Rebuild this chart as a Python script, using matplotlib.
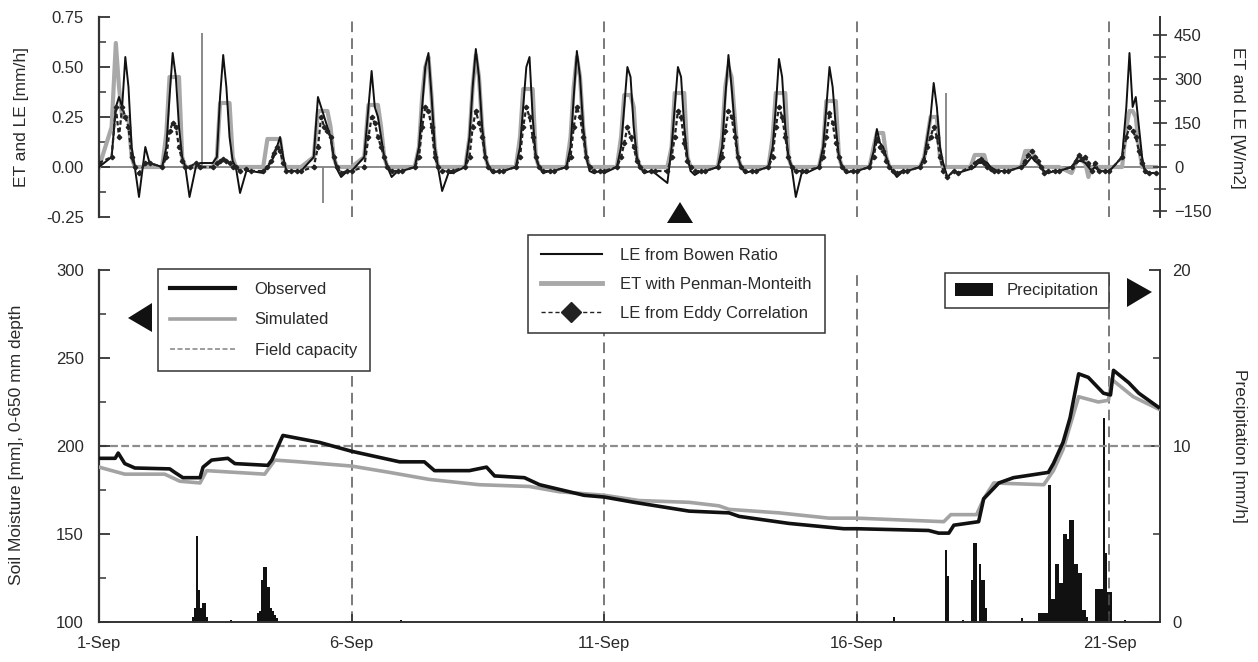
import numpy as np
from matplotlib import pyplot as plt
from matplotlib.lines import Line2D
from matplotlib.patches import Patch, Polygon

plt.rcParams['font.family'] = ['Liberation Sans', 'DejaVu Sans']
TXT = '#2a2a2a'
W, H = 1258, 662

#%% ET / LE fluxes, mm/h, one row per day (1-Sep .. 21-Sep), values at these hours
hours = [0, 6, 8, 9.5, 11, 12.5, 14, 15.5, 17, 19, 22]

le_bowen = [
    [0.00, 0.05, 0.30, 0.35, 0.30, 0.55, 0.40, 0.10, 0.00, -0.15, 0.10],
    [0.02, 0.00, 0.10, 0.35, 0.57, 0.45, 0.20, 0.05, 0.00, -0.15, 0.00],
    [0.02, 0.02, 0.05, 0.35, 0.56, 0.40, 0.15, 0.03, 0.00, -0.13, -0.02],
    [-0.02, -0.03, 0.00, 0.02, 0.05, 0.10, 0.15, 0.05, -0.02, -0.02, -0.02],
    [-0.02, 0.05, 0.35, 0.30, 0.25, 0.20, 0.15, 0.05, -0.01, -0.05, -0.02],
    [-0.02, 0.05, 0.30, 0.48, 0.30, 0.25, 0.15, 0.05, 0.00, -0.05, -0.02],
    [-0.02, 0.00, 0.10, 0.30, 0.50, 0.57, 0.35, 0.10, 0.00, -0.12, -0.03],
    [-0.03, 0.00, 0.15, 0.40, 0.59, 0.45, 0.20, 0.05, 0.00, -0.03, -0.02],
    [-0.02, 0.00, 0.10, 0.30, 0.50, 0.55, 0.25, 0.05, 0.00, -0.03, -0.02],
    [-0.02, 0.00, 0.10, 0.35, 0.58, 0.45, 0.20, 0.05, -0.02, -0.03, -0.02],
    [-0.03, 0.00, 0.10, 0.30, 0.50, 0.45, 0.20, 0.05, 0.00, -0.03, -0.02],
    [-0.03, -0.08, 0.10, 0.30, 0.50, 0.45, 0.20, 0.05, -0.02, -0.04, -0.02],
    [-0.02, 0.00, 0.10, 0.35, 0.56, 0.40, 0.20, 0.05, 0.00, -0.03, -0.02],
    [-0.02, 0.00, 0.10, 0.30, 0.54, 0.45, 0.20, 0.05, 0.00, -0.15, -0.02],
    [-0.03, 0.00, 0.10, 0.30, 0.50, 0.40, 0.20, 0.05, 0.00, -0.03, -0.02],
    [-0.02, 0.00, 0.08, 0.19, 0.12, 0.10, 0.05, 0.00, -0.02, -0.05, -0.02],
    [-0.02, 0.00, 0.05, 0.15, 0.25, 0.42, 0.30, 0.10, 0.02, -0.05, -0.02],
    [-0.03, -0.01, 0.00, 0.02, 0.02, 0.03, 0.02, 0.00, -0.01, -0.02, -0.02],
    [-0.02, 0.00, 0.01, 0.03, 0.05, 0.03, 0.02, 0.00, -0.02, -0.03, -0.02],
    [-0.02, 0.00, 0.02, 0.03, 0.03, 0.02, 0.00, -0.02, 0.00, -0.02, -0.02],
    [-0.02, 0.05, 0.30, 0.57, 0.30, 0.35, 0.20, 0.05, -0.03, -0.03, -0.03],
]

et_pm = [
    [0.00, 0.20, 0.62, 0.40, 0.25, 0.25, 0.25, 0.05, 0.00, 0.00, 0.00],
    [0.00, 0.00, 0.17, 0.45, 0.45, 0.45, 0.45, 0.05, 0.00, 0.00, 0.00],
    [0.00, 0.00, 0.05, 0.32, 0.32, 0.32, 0.32, 0.05, 0.00, 0.00, 0.00],
    [0.00, 0.00, 0.14, 0.14, 0.14, 0.14, 0.14, 0.02, 0.00, 0.00, 0.00],
    [0.00, 0.05, 0.28, 0.28, 0.28, 0.28, 0.20, 0.05, 0.00, 0.00, 0.00],
    [0.00, 0.05, 0.31, 0.31, 0.31, 0.31, 0.20, 0.05, 0.00, 0.00, 0.00],
    [0.00, 0.00, 0.10, 0.35, 0.50, 0.55, 0.35, 0.10, 0.00, 0.00, 0.00],
    [0.00, 0.00, 0.15, 0.40, 0.56, 0.45, 0.20, 0.05, 0.00, 0.00, 0.00],
    [0.00, 0.00, 0.15, 0.39, 0.39, 0.39, 0.39, 0.05, 0.00, 0.00, 0.00],
    [0.00, 0.00, 0.15, 0.40, 0.55, 0.45, 0.20, 0.05, 0.00, 0.00, 0.00],
    [0.00, 0.00, 0.15, 0.36, 0.36, 0.36, 0.30, 0.05, 0.00, 0.00, 0.00],
    [0.00, 0.00, 0.10, 0.37, 0.37, 0.37, 0.37, 0.05, 0.00, 0.00, 0.00],
    [0.00, 0.00, 0.15, 0.40, 0.50, 0.45, 0.25, 0.05, 0.00, 0.00, 0.00],
    [0.00, 0.00, 0.15, 0.37, 0.37, 0.37, 0.37, 0.05, 0.00, 0.00, 0.00],
    [0.00, 0.00, 0.10, 0.33, 0.33, 0.33, 0.33, 0.05, 0.00, 0.00, 0.00],
    [0.00, 0.00, 0.10, 0.17, 0.17, 0.17, 0.05, 0.00, 0.00, 0.00, 0.00],
    [0.00, 0.00, 0.05, 0.15, 0.25, 0.25, 0.25, 0.05, 0.00, 0.00, 0.00],
    [0.00, 0.00, 0.06, 0.06, 0.06, 0.06, 0.00, 0.00, 0.00, 0.00, 0.00],
    [0.00, 0.00, 0.08, 0.08, 0.08, 0.05, 0.02, 0.00, 0.00, 0.00, 0.00],
    [0.00, -0.03, 0.02, 0.05, 0.03, 0.02, -0.05, 0.00, 0.00, 0.00, 0.00],
    [0.00, 0.00, 0.20, 0.28, 0.28, 0.25, 0.10, 0.00, 0.00, 0.00, 0.00],
]

le_eddy = [
    [0.02, 0.05, 0.30, 0.15, 0.30, 0.25, 0.20, 0.05, 0.00, -0.03, 0.02],
    [0.02, 0.00, 0.05, 0.18, 0.22, 0.20, 0.10, 0.03, 0.00, 0.00, 0.02],
    [0.00, 0.00, 0.02, 0.03, 0.04, 0.03, 0.02, 0.00, 0.00, -0.02, -0.01],
    [-0.02, -0.02, 0.00, 0.03, 0.07, 0.10, 0.08, 0.02, -0.02, -0.02, -0.02],
    [-0.02, 0.00, 0.10, 0.25, 0.20, 0.18, 0.15, 0.05, 0.00, -0.03, -0.02],
    [-0.02, 0.00, 0.15, 0.25, 0.22, 0.15, 0.10, 0.05, 0.00, -0.02, -0.02],
    [-0.02, 0.00, 0.05, 0.20, 0.30, 0.28, 0.20, 0.05, 0.00, -0.02, -0.02],
    [-0.02, 0.00, 0.05, 0.20, 0.28, 0.22, 0.15, 0.05, 0.00, -0.02, -0.02],
    [-0.02, 0.00, 0.05, 0.20, 0.30, 0.25, 0.15, 0.05, 0.00, -0.02, -0.02],
    [-0.02, 0.00, 0.05, 0.20, 0.30, 0.25, 0.15, 0.05, 0.00, -0.02, -0.02],
    [-0.02, 0.00, 0.05, 0.12, 0.20, 0.15, 0.10, 0.03, 0.00, -0.02, -0.02],
    [-0.02, -0.02, 0.05, 0.15, 0.28, 0.25, 0.12, 0.03, 0.00, -0.02, -0.02],
    [-0.02, 0.00, 0.05, 0.18, 0.28, 0.25, 0.15, 0.05, 0.00, -0.02, -0.02],
    [-0.02, 0.00, 0.05, 0.20, 0.30, 0.25, 0.15, 0.05, 0.00, -0.02, -0.02],
    [-0.02, 0.00, 0.05, 0.15, 0.27, 0.22, 0.12, 0.05, 0.00, -0.02, -0.02],
    [-0.02, 0.00, 0.05, 0.14, 0.10, 0.08, 0.03, 0.00, -0.02, -0.03, -0.02],
    [-0.02, 0.00, 0.03, 0.10, 0.15, 0.20, 0.15, 0.05, -0.02, -0.05, -0.02],
    [-0.03, 0.00, 0.02, 0.03, 0.04, 0.02, 0.00, -0.01, -0.02, -0.02, -0.02],
    [-0.02, 0.00, 0.03, 0.06, 0.08, 0.05, 0.03, 0.00, -0.03, -0.02, -0.02],
    [-0.02, 0.00, 0.03, 0.06, 0.04, 0.05, 0.02, -0.02, 0.02, -0.02, -0.02],
    [-0.02, 0.05, 0.15, 0.20, 0.18, 0.15, 0.08, 0.02, -0.02, -0.03, -0.03],
]

# isolated eddy-correlation spikes (day since 1-Sep, mm/h)
spike_day = [2.04, 4.43, 16.76]
spike_val = [0.67, -0.18, 0.37]

#%% soil moisture (mm), x in days since 1-Sep 00:00
obs_day = [0.00, 0.32, 0.38, 0.51, 0.71, 1.40, 1.50, 1.66, 2.00, 2.06, 2.23, 2.55, 2.69,
           3.34, 3.42, 3.64, 4.37, 5.00, 5.95, 6.44, 6.64, 7.33, 7.67, 7.83, 8.42, 8.72,
           9.60, 10.00, 10.59, 11.68, 12.47, 12.67, 13.66, 14.74, 15.00, 16.42, 16.62,
           16.82, 16.92, 17.41, 17.51, 17.81, 18.10, 18.79, 18.89, 19.08, 19.22, 19.39,
           19.58, 19.88, 20.02, 20.08, 20.38, 20.58, 20.97]
obs_mm = [193, 193, 196, 190, 187.5, 187, 185, 182, 182, 188, 192, 193, 190,
          189, 192, 206, 202, 197, 191, 191, 186, 186, 188, 183, 182, 178,
          172, 171, 168, 163, 162, 160, 156, 153, 153, 152, 150.5,
          150.5, 155, 157, 170, 179, 182, 185, 190, 202, 216, 241,
          239, 230, 229, 243, 236, 230, 222]

sim_day = [0.00, 0.51, 1.30, 1.60, 2.00, 2.13, 3.28, 3.48, 3.97, 5.00, 5.75, 6.54, 7.53,
           8.52, 9.11, 10.00, 10.69, 11.68, 12.27, 12.47, 13.46, 14.45, 15.00, 16.72,
           16.86, 17.37, 17.51, 17.71, 18.70, 18.89, 19.08, 19.39, 19.78, 19.98, 20.04,
           20.47, 20.97]
sim_mm = [188, 184, 184, 180, 179, 186, 184, 192, 191, 188.6, 185, 181, 178,
          177, 174, 172, 169, 168, 166, 164, 162, 159, 159, 157,
          161, 161, 170, 179, 178, 186, 198, 228, 225, 226, 238,
          228, 221]

field_capacity = 200

#%% precipitation, mm/h per hour since 1-Sep 00:00
precip_hour = [44, 45, 46, 47, 48, 49, 50, 51, 62,
               75, 76, 77, 78, 79, 80, 81, 82, 83, 84, 143,
               377, 402, 403, 410,
               414, 415, 416, 418, 419, 420, 421, 438,
               446, 447, 448, 449, 450, 451, 452, 453, 454, 455, 456, 457, 458, 459,
               460, 461, 462, 463, 464, 465, 466, 467, 468, 469,
               473, 474, 475, 476, 477, 478, 479, 480, 487]
precip_mmh = [0.3, 0.8, 4.9, 1.8, 0.8, 1.1, 1.1, 0.3, 0.1,
              0.5, 0.6, 2.4, 3.1, 3.1, 2.0, 0.8, 0.6, 0.4, 0.2, 0.1,
              0.3, 4.1, 2.6, 0.1,
              2.4, 4.5, 4.5, 3.3, 2.4, 2.4, 0.8, 0.2,
              0.5, 0.5, 0.5, 0.5, 0.5, 7.8, 1.3, 1.3, 3.3, 3.3, 2.2, 2.2, 5.0, 5.0,
              4.7, 5.8, 5.8, 3.3, 3.3, 2.8, 2.8, 0.7, 0.7, 0.3,
              1.9, 1.9, 1.9, 1.9, 11.6, 3.9, 1.7, 1.7, 0.1]

tick_days = [0, 5, 10, 15, 20]
tick_labels = ['1-Sep', '6-Sep', '11-Sep', '16-Sep', '21-Sep']

MMH_TO_WM2 = 680.0   # latent heat conversion used for the right axis

#%% build time axis for the flux rows
t_flux = np.array([d + h / 24.0 for d in range(len(le_bowen)) for h in hours])
bowen = np.array(le_bowen).ravel()
pm = np.array(et_pm).ravel()
eddy = np.array(le_eddy).ravel()


def fx(px):
    return px / W


def fy(py):
    return 1 - py / H


fig = plt.figure(figsize=(W / 100, H / 100), dpi=100)
fig.patch.set_facecolor('white')

ax1 = fig.add_axes([fx(99), fy(217), fx(1160) - fx(99), fy(17) - fy(217)])
ax2 = fig.add_axes([fx(99), fy(622), fx(1160) - fx(99), fy(270) - fy(622)])

dash_kw = dict(color='#555555', lw=1.1, dashes=(7, 4), zorder=1)

#%% top panel
ax1.axhline(0, color='#777777', lw=1.2, zorder=1)
for d in tick_days[1:]:
    ax1.axvline(d, **dash_kw)
ax1.plot(t_flux, pm, color='#a8a8a8', lw=3, zorder=2)
ax1.vlines(spike_day, 0, spike_val, color='#808080', lw=1.3, zorder=2)
ax1.plot(t_flux, bowen, color='#111111', lw=1.4, zorder=3)
ax1.plot(t_flux, eddy, color='#222222', lw=1.6, dashes=(2, 1.2), marker='D',
         ms=2.3, zorder=4)

ax1.set_xlim(0, 21)
ax1.set_ylim(-0.25, 0.75)
ax1.set_xticks([])
ax1.set_yticks([-0.25, 0, 0.25, 0.5, 0.75])
ax1.set_yticks([-0.125, 0.125, 0.375, 0.625], minor=True)
ax1.set_yticklabels(['%.2f' % v for v in [-0.25, 0, 0.25, 0.5, 0.75]])
ax1.tick_params(axis='y', which='major', direction='in', length=8, width=1.3,
                pad=11, labelsize=12, labelcolor=TXT, color='#333333')
ax1.tick_params(axis='y', which='minor', direction='in', length=5, width=1.1,
                color='#333333')
for s in ['top', 'bottom', 'right']:
    ax1.spines[s].set_visible(False)
ax1.spines['left'].set_linewidth(1.6)
ax1.spines['left'].set_color('#333333')

ax1r = ax1.twinx()
ax1r.set_ylim(-0.25 * MMH_TO_WM2, 0.75 * MMH_TO_WM2)
ax1r.set_yticks([-150, 0, 150, 300, 450])
ax1r.set_yticks([-75, 75, 225, 375], minor=True)
ax1r.tick_params(axis='y', which='major', direction='inout', length=10, width=1.2,
                 pad=5, labelsize=12, labelcolor=TXT, color='#333333')
ax1r.tick_params(axis='y', which='minor', direction='inout', length=8, width=1.1,
                 color='#333333')
for s in ['top', 'bottom', 'left']:
    ax1r.spines[s].set_visible(False)
ax1r.spines['right'].set_linewidth(1.4)
ax1r.spines['right'].set_color('#333333')

#%% bottom panel
ax2r = ax2.twinx()
ax2r.bar(np.array(precip_hour) / 24.0, precip_mmh, width=1 / 24.0, align='edge',
         color='#111111', edgecolor='none', zorder=2)
ax2r.set_ylim(0, 20)
ax2r.set_yticks([0, 10, 20])
ax2r.set_yticks([5, 15], minor=True)
ax2r.tick_params(axis='y', which='major', direction='in', length=8, width=1.3,
                 pad=9, labelsize=12, labelcolor=TXT, color='#333333')
ax2r.tick_params(axis='y', which='minor', direction='in', length=5, width=1.1,
                 color='#333333')

ax2.set_zorder(ax2r.get_zorder() + 1)
ax2.patch.set_visible(False)
for d in tick_days[1:]:
    ax2.axvline(d, **dash_kw)
ax2.axhline(field_capacity, color='#8c8c8c', lw=1.6, dashes=(3.5, 1.5), zorder=1)
ax2.plot(sim_day, sim_mm, color='#a3a3a3', lw=2.6, zorder=3)
ax2.plot(obs_day, obs_mm, color='#111111', lw=2.6, zorder=4)

ax2.set_xlim(0, 21)
ax2.set_ylim(100, 300)
ax2.set_yticks([100, 150, 200, 250, 300])
ax2.set_yticks([125, 175, 225, 275], minor=True)
ax2.set_xticks(tick_days)
ax2.set_xticklabels(tick_labels)
ax2.tick_params(axis='y', which='major', direction='in', length=8, width=1.3,
                pad=11, labelsize=12, labelcolor=TXT, color='#333333')
ax2.tick_params(axis='y', which='minor', direction='in', length=5, width=1.1,
                color='#333333')
ax2.tick_params(axis='x', direction='in', length=6, width=1.2, pad=10,
                labelsize=12, labelcolor=TXT, color='#333333')

for a in (ax2, ax2r):
    a.spines['top'].set_visible(False)
ax2.spines['right'].set_visible(False)
ax2r.spines['left'].set_visible(False)
ax2r.spines['bottom'].set_visible(False)
ax2.spines['left'].set_linewidth(1.6)
ax2.spines['bottom'].set_linewidth(1.4)
ax2r.spines['right'].set_linewidth(1.4)
for a, s in [(ax2, 'left'), (ax2, 'bottom'), (ax2r, 'right')]:
    a.spines[s].set_color('#333333')

#%% axis titles
fig.text(fx(22), fy(117), 'ET and LE [mm/h]', rotation=90, ha='center', va='center',
         fontsize=12.5, color=TXT)
fig.text(fx(1238), fy(118), 'ET and LE [W/m2]', rotation=270, ha='center', va='center',
         fontsize=12.5, color=TXT)
fig.text(fx(17), fy(445), 'Soil Moisture [mm], 0-650 mm depth', rotation=90,
         ha='center', va='center', fontsize=12.5, color=TXT)
fig.text(fx(1240), fy(446), 'Precipitation [mm/h]', rotation=270, ha='center',
         va='center', fontsize=12.5, color=TXT)

#%% legends
leg_kw = dict(loc='upper left', fontsize=12, frameon=True, fancybox=False,
              framealpha=1, edgecolor='#333333', borderaxespad=0)

h_soil = [Line2D([], [], color='#111111', lw=3),
          Line2D([], [], color='#a3a3a3', lw=2.6),
          Line2D([], [], color='#8c8c8c', lw=1.2, dashes=(3, 1.5))]
leg1 = fig.legend(h_soil, ['Observed', 'Simulated', 'Field capacity'],
                  bbox_to_anchor=(fx(158), fy(269)), handlelength=3.9,
                  handletextpad=1.15, borderpad=0.75, labelspacing=0.95, **leg_kw)

h_flux = [Line2D([], [], color='#111111', lw=1.5),
          Line2D([], [], color='#a8a8a8', lw=3.5),
          Line2D([], [], color='#222222', lw=1, dashes=(3, 2), marker='D', ms=10,
                 markevery=[1])]
h_flux[2].set_data([0, 1, 2], [0, 0, 0])
leg2 = fig.legend(h_flux, ['LE from Bowen Ratio', 'ET with Penman-Monteith',
                           'LE from Eddy Correlation'],
                  bbox_to_anchor=(fx(528), fy(235)), handlelength=3.7,
                  handletextpad=1.1, borderpad=0.75, labelspacing=0.85, **leg_kw)

h_rain = [Patch(facecolor='#111111', edgecolor='none')]
leg3 = fig.legend(h_rain, ['Precipitation'], bbox_to_anchor=(fx(945), fy(273)),
                  handlelength=2.3, handleheight=0.8, handletextpad=0.8,
                  borderpad=0.6, **leg_kw)
for lg in (leg1, leg2, leg3):
    lg.get_frame().set_linewidth(1.1)
    for t in lg.get_texts():
        t.set_color(TXT)

#%% axis pointers
for pts in ([(680, 202), (667, 223), (693, 223)],
            [(128, 318), (152, 303), (152, 332)],
            [(1152, 292), (1127, 278), (1127, 307)]):
    fig.add_artist(Polygon([(fx(px), fy(py)) for px, py in pts], closed=True,
                           transform=fig.transFigure, facecolor='#111111',
                           edgecolor='none'))

fig.savefig('out.png', dpi=100)
